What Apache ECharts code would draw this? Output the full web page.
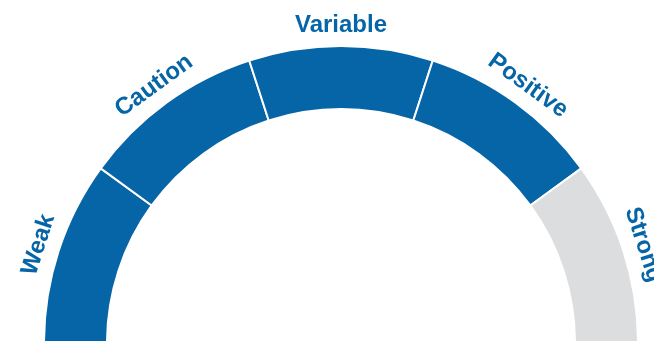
<!DOCTYPE html>
<html>
<head>
<meta charset="utf-8">
<script src="https://cdn.jsdelivr.net/npm/echarts@6/dist/echarts.min.js"></script>
<style>
  html, body { margin: 0; padding: 0; background: #ffffff; }
  #chart { width: 654px; height: 341px; }
</style>
</head>
<body>
<div id="chart"></div>
<script>
// Gauge bands, read left to right across the half ring
const categories = ['Weak', 'Caution', 'Variable', 'Positive', 'Strong'];
const bandSizes = [1, 1, 1, 1, 1];
const bandActive = [true, true, true, true, false];

const BLUE = '#0565a6';
const GREY = '#dcdddf';

// The lower half of the ring is a blank filler equal to the visible total
const total = bandSizes.reduce((a, b) => a + b, 0);

const ringData = categories.map((name, i) => ({
  name: name,
  value: bandSizes[i],
  itemStyle: { color: bandActive[i] ? BLUE : GREY }
}));
ringData.push({
  name: '',
  value: total,
  itemStyle: { color: 'transparent', borderWidth: 0 }
});

const labelData = categories.map((name, i) => ({
  name: name,
  value: bandSizes[i]
}));
labelData.push({ name: '', value: total, label: { show: false } });

const chart = echarts.init(document.getElementById('chart'), null, { renderer: 'canvas' });
chart.setOption({
  animation: false,
  series: [
    {
      type: 'pie',
      center: [341, 343],
      radius: [234, 297],
      startAngle: 180,
      clockwise: true,
      silent: true,
      label: { show: false },
      labelLine: { show: false },
      itemStyle: { borderColor: '#ffffff', borderWidth: 2 },
      data: ringData
    },
    {
      type: 'pie',
      center: [341, 343],
      radius: [304, 326],
      startAngle: 180,
      clockwise: true,
      silent: true,
      itemStyle: { color: 'transparent' },
      label: {
        show: true,
        position: 'inside',
        rotate: 'tangential',
        color: BLUE,
        fontFamily: '"Liberation Sans", Arial, sans-serif',
        fontWeight: 'bold',
        fontSize: 24,
        formatter: '{b}'
      },
      labelLine: { show: false },
      data: labelData
    }
  ]
});
</script>
</body>
</html>
